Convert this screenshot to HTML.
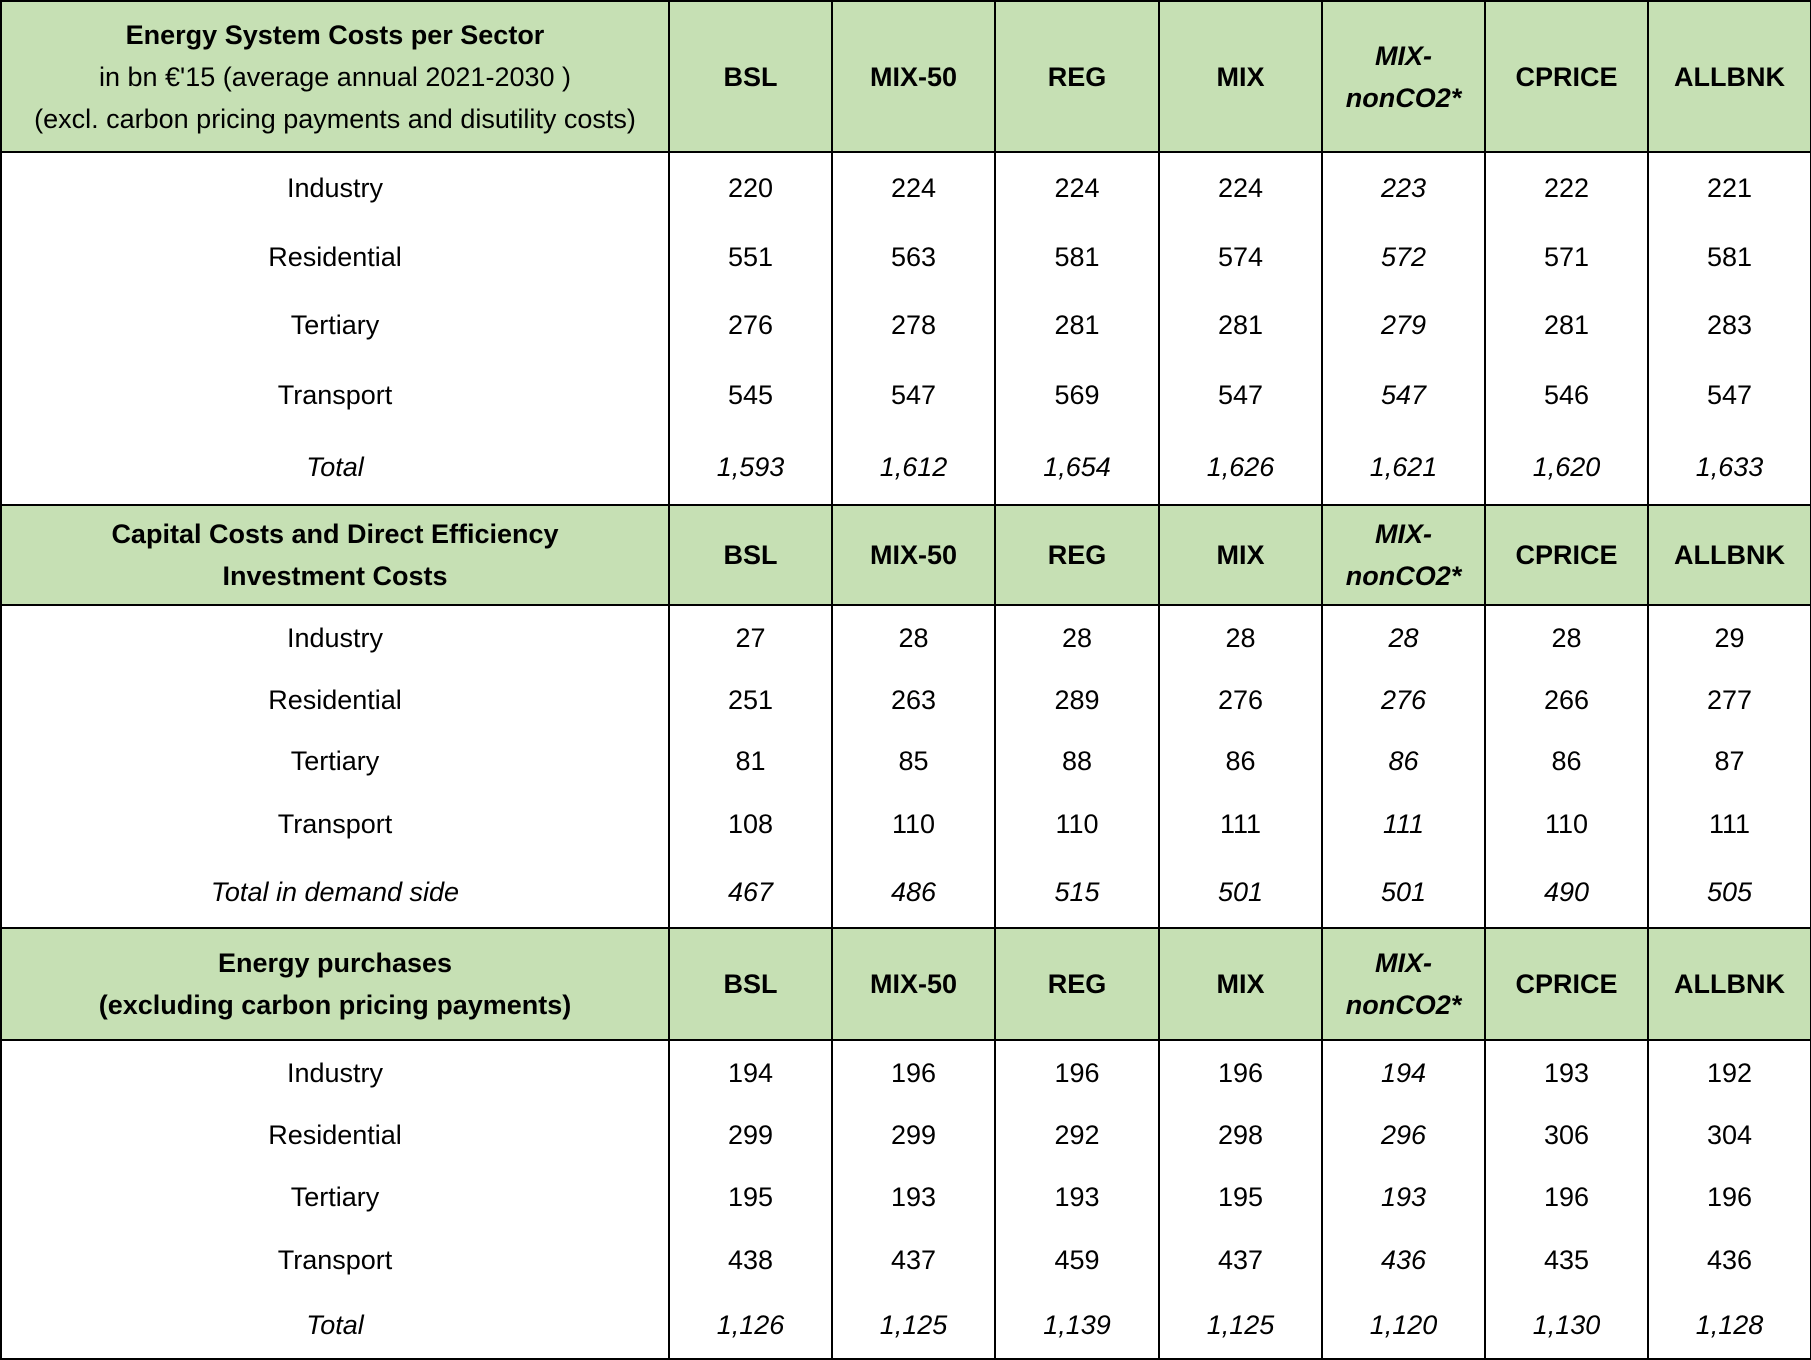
<!DOCTYPE html>
<html><head><meta charset="utf-8"><style>
html,body{margin:0;padding:0;background:#fff;width:1811px;height:1360px;overflow:hidden}
table{border-collapse:collapse;table-layout:fixed;position:absolute;left:0;top:0;width:1810px;font-family:"Liberation Sans",Arial,sans-serif;font-size:27px;color:#000}
td{border-left:2px solid #000;border-right:2px solid #000;text-align:center;padding:0;vertical-align:middle;line-height:42px;white-space:nowrap}
tr.h td{background:#c6e0b4;font-weight:bold;border-top:2px solid #000;border-bottom:2px solid #000}
tr.h td.n{font-style:italic}
tr.t td{font-style:italic}
tr.last td{border-bottom:2px solid #000}
td.c4{font-style:italic}
</style></head><body>
<table>
<colgroup><col style="width:668px"><col style="width:163px"><col style="width:163px"><col style="width:164px"><col style="width:163px"><col style="width:163px"><col style="width:163px"><col style="width:163px"></colgroup>
<tr class="h" style="height:151px"><td><span>Energy System Costs per Sector</span><br><span style="font-weight:normal">in bn €'15 (average annual 2021-2030 )<br>(excl. carbon pricing payments and disutility costs)</span></td><td>BSL</td><td>MIX-50</td><td>REG</td><td>MIX</td><td class="n">MIX-<br>nonCO2*</td><td>CPRICE</td><td>ALLBNK</td></tr>
<tr style="height:70px"><td>Industry</td><td>220</td><td>224</td><td>224</td><td>224</td><td class="c4">223</td><td>222</td><td>221</td></tr>
<tr style="height:69px"><td>Residential</td><td>551</td><td>563</td><td>581</td><td>574</td><td class="c4">572</td><td>571</td><td>581</td></tr>
<tr style="height:68px"><td>Tertiary</td><td>276</td><td>278</td><td>281</td><td>281</td><td class="c4">279</td><td>281</td><td>283</td></tr>
<tr style="height:71px"><td>Transport</td><td>545</td><td>547</td><td>569</td><td>547</td><td class="c4">547</td><td>546</td><td>547</td></tr>
<tr class="t" style="height:75px"><td>Total</td><td>1,593</td><td>1,612</td><td>1,654</td><td>1,626</td><td>1,621</td><td>1,620</td><td>1,633</td></tr>
<tr class="h" style="height:100px"><td>Capital Costs and Direct Efficiency<br>Investment Costs</td><td>BSL</td><td>MIX-50</td><td>REG</td><td>MIX</td><td class="n">MIX-<br>nonCO2*</td><td>CPRICE</td><td>ALLBNK</td></tr>
<tr style="height:64px"><td>Industry</td><td>27</td><td>28</td><td>28</td><td>28</td><td class="c4">28</td><td>28</td><td>29</td></tr>
<tr style="height:61px"><td>Residential</td><td>251</td><td>263</td><td>289</td><td>276</td><td class="c4">276</td><td>266</td><td>277</td></tr>
<tr style="height:61px"><td>Tertiary</td><td>81</td><td>85</td><td>88</td><td>86</td><td class="c4">86</td><td>86</td><td>87</td></tr>
<tr style="height:65px"><td>Transport</td><td>108</td><td>110</td><td>110</td><td>111</td><td class="c4">111</td><td>110</td><td>111</td></tr>
<tr class="t" style="height:72px"><td>Total in demand side</td><td>467</td><td>486</td><td>515</td><td>501</td><td>501</td><td>490</td><td>505</td></tr>
<tr class="h" style="height:112px"><td>Energy purchases<br>(excluding carbon pricing payments)</td><td>BSL</td><td>MIX-50</td><td>REG</td><td>MIX</td><td class="n">MIX-<br>nonCO2*</td><td>CPRICE</td><td>ALLBNK</td></tr>
<tr style="height:64px"><td>Industry</td><td>194</td><td>196</td><td>196</td><td>196</td><td class="c4">194</td><td>193</td><td>192</td></tr>
<tr style="height:62px"><td>Residential</td><td>299</td><td>299</td><td>292</td><td>298</td><td class="c4">296</td><td>306</td><td>304</td></tr>
<tr style="height:62px"><td>Tertiary</td><td>195</td><td>193</td><td>193</td><td>195</td><td class="c4">193</td><td>196</td><td>196</td></tr>
<tr style="height:64px"><td>Transport</td><td>438</td><td>437</td><td>459</td><td>437</td><td class="c4">436</td><td>435</td><td>436</td></tr>
<tr class="t last" style="height:67px"><td>Total</td><td>1,126</td><td>1,125</td><td>1,139</td><td>1,125</td><td>1,120</td><td>1,130</td><td>1,128</td></tr>
</table>
</body></html>
